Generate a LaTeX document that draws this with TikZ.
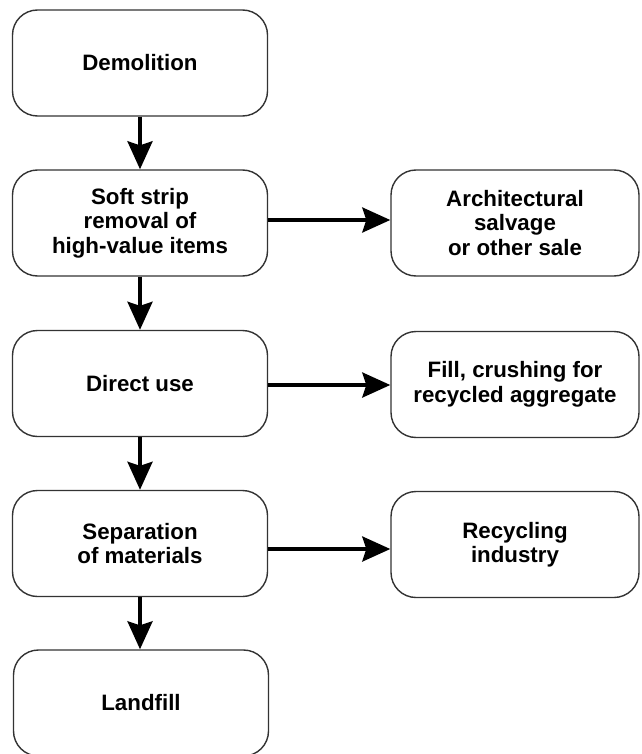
\documentclass[tikz,border=0pt]{standalone}
\usepackage{fontspec}
\setmainfont{Liberation Sans}
\usetikzlibrary{arrows.meta}

\tikzset{
  stage/.style={draw=black!80, line width=1.4pt, rounded corners=25pt,
    minimum width=255pt, minimum height=106pt, inner sep=0pt,
    align=center, font=\bfseries\fontsize{22.3}{24.5}\selectfont},
  outlet/.style={stage, minimum width=248pt},
  flow/.style={line width=3.6pt,
    -{Stealth[length=28pt, width=25pt, inset=4pt]}}
}

\begin{document}
\begin{tikzpicture}[x=1pt, y=-1pt]
  \useasboundingbox (0,0) rectangle (641,754);

  % main sequence of stages
  \node[stage] (demo)  at (140, 63)    {Demolition};
  \node[stage] (strip) at (140, 223)   {Soft strip\\ removal of\\ high-value items};
  \node[stage] (use)   at (140, 383.5) {Direct use};
  \node[stage] (sep)   at (140, 543.5) {Separation\\ of materials};
  \node[stage] (land)  at (141, 703)   {Landfill};

  % side outlets
  \node[outlet] (salv) at (515, 223)   {Architectural\\ salvage\\ or other sale};
  \node[outlet] (fill) at (515, 384.5) {Fill, crushing for\\ recycled aggregate};
  \node[outlet] (recy) at (515, 544.5) {Recycling\\ industry};

  % downward flow
  \draw[flow] (demo) -- (strip);
  \draw[flow] (strip) -- (use);
  \draw[flow] (use) -- (sep);
  \draw[flow] (sep.south) -- (land.north -| sep.south);

  % branches to the outlets, kept level
  \draw[flow] ([yshift=3pt]strip.east) -- ([yshift=3pt]strip.east -| salv.west);
  \draw[flow] ([yshift=-1.5pt]use.east) -- ([yshift=-1.5pt]use.east -| fill.west);
  \draw[flow] ([yshift=-5.5pt]sep.east) -- ([yshift=-5.5pt]sep.east -| recy.west);
\end{tikzpicture}
\end{document}
